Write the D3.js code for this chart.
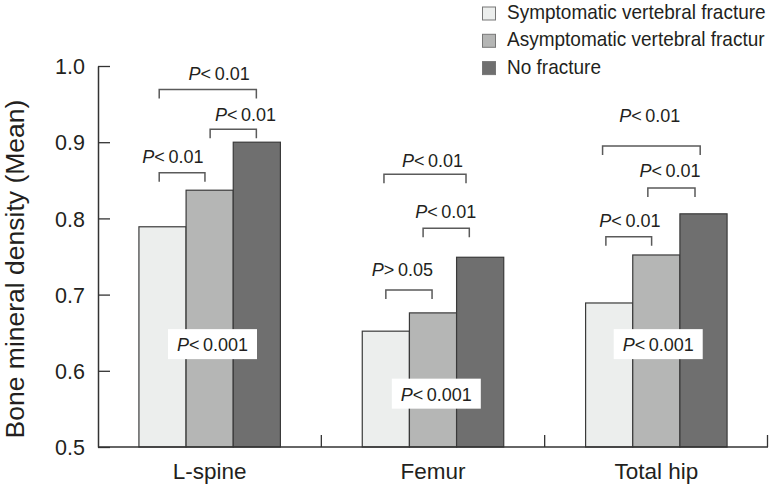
<!DOCTYPE html>
<html>
<head>
<meta charset="utf-8">
<script src="https://cdn.jsdelivr.net/npm/d3@7"></script>
<style>
  html, body { margin: 0; padding: 0; background: #fff; }
  svg { display: block; }
  text { font-family: "Liberation Sans", Arial, Helvetica, sans-serif; fill: #231f20; }
</style>
</head>
<body>
<svg id="chart" width="770" height="485"></svg>
<script>
// ---- data ----
const categories = ["L-spine", "Femur", "Total hip"];
const seriesNames = ["Symptomatic vertebral fracture", "Asymptomatic vertebral fractur", "No fracture"];
const symptomatic = [0.789, 0.652, 0.689];
const asymptomatic = [0.837, 0.676, 0.752];
const noFracture = [0.900, 0.749, 0.806];
const yTicks = [0.5, 0.6, 0.7, 0.8, 0.9, 1.0];
// brackets: category, from bar index, to bar index, bracket level, label, label x (bar index), label baseline
const bracketCat   = ["L-spine", "L-spine", "L-spine", "Femur", "Femur", "Femur", "Total hip", "Total hip", "Total hip"];
const bracketFrom  = [-0.07, 1.01, -0.07, 0.00, 0.79, -0.04, -0.07, 0.82, -0.14];
const bracketTo    = [0.90, 1.99, 1.99, 0.98, 1.77, 1.70, 0.90, 1.82, 1.93];
const bracketLevel = [0.860, 0.917, 0.969, 0.706, 0.787, 0.858, 0.776, 0.840, 0.895];
const bracketLabel = ["<\u20090.01", "<\u20090.01", "<\u20090.01", ">\u20090.05", "<\u20090.01", "<\u20090.01", "<\u20090.01", "<\u20090.01", "<\u20090.01"];
const labelX       = [0.22, 1.76, 1.20, 0.35, 1.27, 0.99, 0.44, 1.29, 0.86];
const labelLevel   = [0.873, 0.928, 0.982, 0.724, 0.800, 0.868, 0.789, 0.854, 0.927];
// overall p-value boxes
const boxLabel = ["<\u20090.001", "<\u20090.001", "<\u20090.001"];
const boxX     = [1.06, 1.07, 1.04];
const boxLevel = [0.635, 0.570, 0.635];

const colors = ["#eceeed", "#b5b6b5", "#6f6f6f"];
const values = [symptomatic, asymptomatic, noFracture];

// ---- layout ----
const svg = d3.select("#chart");
const x = d3.scaleBand().domain(categories).range([98, 768]).paddingInner(0).paddingOuter(0);
const inner = d3.scaleBand().domain(d3.range(3)).range([0, x.bandwidth()]).paddingInner(0).paddingOuter(0.868);
const y = d3.scaleLinear().domain([0.5, 1.0]).range([447, 66]);
const bw = inner.bandwidth();
const barCenter = (cat, idx) => x(cat) + inner(0) + bw / 2 + idx * inner.step();

// bars
categories.forEach((cat, ci) => {
  values.forEach((vals, si) => {
    svg.append("rect")
      .attr("x", x(cat) + inner(si))
      .attr("y", y(vals[ci]))
      .attr("width", bw)
      .attr("height", y(0.5) - y(vals[ci]))
      .attr("fill", colors[si])
      .attr("stroke", "#3a3a3a")
      .attr("stroke-width", 1.2);
  });
});

// y axis
const yAxis = d3.axisLeft(y).tickValues(yTicks).tickFormat(d3.format(".1f")).tickSizeInner(-12).tickSizeOuter(0).tickPadding(13);
const gy = svg.append("g").attr("transform", "translate(98,0)").call(yAxis);
gy.select(".domain").attr("stroke", "#333").attr("stroke-width", 1.5);
gy.selectAll(".tick line").attr("stroke", "#333").attr("stroke-width", 1.3);
gy.selectAll(".tick text").attr("font-size", 21.5).attr("font-family", null).attr("fill", "#231f20").attr("dy", "0.36em");

// x axis
const gx = svg.append("g").attr("transform", "translate(0,447)");
gx.append("line").attr("x1", 98).attr("x2", 768).attr("y1", 0).attr("y2", 0).attr("stroke", "#333").attr("stroke-width", 1.5);
categories.forEach(cat => {
  const xe = Math.min(x(cat) + x.bandwidth(), 767.5);
  gx.append("line").attr("x1", xe).attr("x2", xe).attr("y1", 0).attr("y2", -12).attr("stroke", "#333").attr("stroke-width", 1.3);
  gx.append("text").attr("x", x(cat) + x.bandwidth() / 2).attr("y", 32)
    .attr("text-anchor", "middle").attr("font-size", 22.5).text(cat);
});

// y title
svg.append("text")
  .attr("transform", "translate(24,269) rotate(-90)")
  .attr("text-anchor", "middle").attr("font-size", 26.5)
  .text("Bone mineral density (Mean)");

// brackets
function pLabel(g, cx, cy, rest) {
  const t = g.append("text").attr("x", cx).attr("y", cy).attr("text-anchor", "middle").attr("font-size", 18);
  t.append("tspan").attr("font-style", "italic").text("P");
  t.append("tspan").text(rest);
  return t;
}
bracketCat.forEach((cat, i) => {
  const x0 = barCenter(cat, bracketFrom[i]);
  const x1 = barCenter(cat, bracketTo[i]);
  const yb = y(bracketLevel[i]);
  svg.append("path")
    .attr("d", `M${x0},${yb + 9}V${yb}H${x1}V${yb + 9}`)
    .attr("fill", "none").attr("stroke", "#5a5a5a").attr("stroke-width", 1.5);
  pLabel(svg, barCenter(cat, labelX[i]), y(labelLevel[i]), bracketLabel[i]);
});

// boxes
categories.forEach((cat, i) => {
  const cx = barCenter(cat, boxX[i]);
  const cy = y(boxLevel[i]);
  svg.append("rect").attr("x", cx - 44.5).attr("y", cy - 15).attr("width", 89).attr("height", 30).attr("fill", "#fff");
  pLabel(svg, cx, cy + 7, boxLabel[i]);
});

// legend
const lg = svg.append("g");
seriesNames.forEach((name, i) => {
  const yy = 13.5 + i * 27.3;
  lg.append("rect").attr("x", 482.5).attr("y", yy - 6.5).attr("width", 13).attr("height", 13)
    .attr("fill", colors[i]).attr("stroke", "#777").attr("stroke-width", 1);
  lg.append("text").attr("transform", `translate(507,${yy + 5.5}) scale(0.95,1)`).attr("font-size", 20).text(name);
});
</script>
</body>
</html>
